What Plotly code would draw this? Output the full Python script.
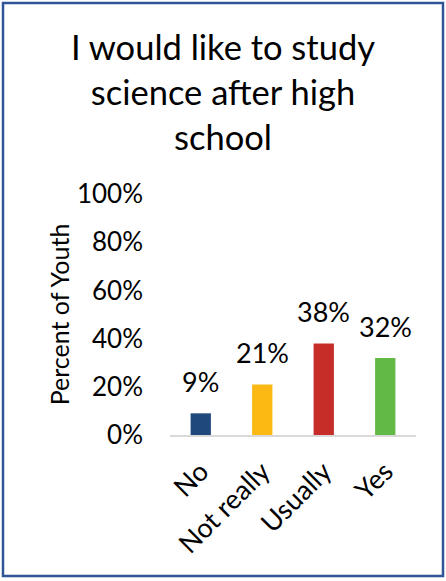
import plotly.graph_objects as go

# Survey responses
categories = ["No", "Not really", "Usually", "Yes"]
percent_youth = [0.09, 0.21, 0.38, 0.32]
bar_colors = ["#1F497D", "#FDB913", "#C62D28", "#63B946"]
y_ticks = [0, 0.2, 0.4, 0.6, 0.8, 1.0]
y_tick_labels = ["0%", "20%", "40%", "60%", "80%", "100%"]

FONT = "Lato, 'Open Sans', sans-serif"
W, H = 446, 581
L, R, T, B = 170, 30, 194, 146

fig = go.Figure(
    go.Bar(
        x=categories,
        y=percent_youth,
        marker=dict(color=bar_colors, line=dict(width=0)),
        width=0.33,
        hoverinfo="skip",
    )
)

# value labels above each bar
for cat, val in zip(categories, percent_youth):
    fig.add_annotation(
        x=cat, y=val, text=f"{round(val * 100)}%",
        showarrow=False, yanchor="bottom", yshift=13,
        font=dict(family=FONT, size=27, color="#000000"),
    )

# outer frame around the whole chart
pw, ph = W - L - R, H - T - B
fig.add_shape(
    type="rect", xref="paper", yref="paper",
    x0=(3 - L) / pw, x1=(443 - L) / pw,
    y0=(H - B - 576) / ph, y1=(H - B - 3) / ph,
    line=dict(color="#2F5597", width=2.5), fillcolor="rgba(0,0,0,0)",
    layer="above",
)

fig.update_layout(
    width=W, height=H,
    margin=dict(l=L, r=R, t=T, b=B, autoexpand=False),
    paper_bgcolor="white", plot_bgcolor="white",
    showlegend=False,
    font=dict(family=FONT, color="#000000"),
    title=dict(
        text="I would like to study<br>science after high<br>school",
        x=0.5, xref="container", xanchor="center",
        y=1 - 60 / H, yref="container", yanchor="middle",
        font=dict(family=FONT, size=34.5, color="#000000"),
    ),
    xaxis=dict(
        showline=True, linecolor="#D9D9D9", linewidth=2,
        ticks="", tickangle=-45, ticklabelstandoff=8,
        tickfont=dict(family=FONT, size=27, color="#000000"),
        showgrid=False, automargin=False,
    ),
    yaxis=dict(
        range=[0, 1.0], tickvals=y_ticks, ticktext=y_tick_labels,
        showgrid=False, zeroline=False, showline=False, ticks="",
        ticklabelstandoff=26,
        tickfont=dict(family=FONT, size=26, color="#000000"),
        title=dict(text="Percent of Youth", standoff=0,
                   font=dict(family=FONT, size=25, color="#000000")),
        automargin=False,
    ),
)

fig.write_html("out.html")
